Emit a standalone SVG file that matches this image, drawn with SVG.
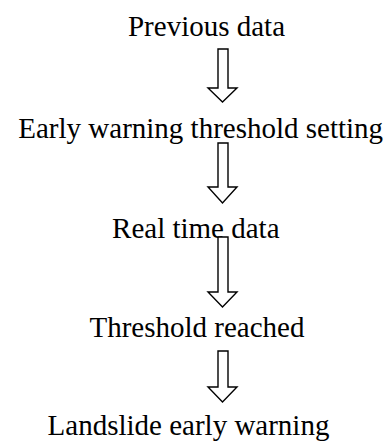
<svg xmlns="http://www.w3.org/2000/svg" width="388" height="446" viewBox="0 0 388 446">
  <style>
    .label { font-family: "Liberation Serif", "Times New Roman", serif; font-size: 29px; fill: #000; text-anchor: middle; }
    .arrow { fill: #fff; stroke: #000; stroke-width: 1.4; stroke-linejoin: miter; }
  </style>
  <rect width="388" height="446" fill="#fff"/>

  <g id="node-previous-data">
    <text class="label" x="206.5" y="35.7">Previous data</text>
  </g>
  <g id="node-threshold-setting">
    <text class="label" x="200.7" y="137.7">Early warning threshold setting</text>
  </g>
  <g id="node-real-time-data">
    <text class="label" x="195.8" y="238">Real time data</text>
  </g>
  <g id="node-threshold-reached">
    <text class="label" x="197" y="336.7">Threshold reached</text>
  </g>
  <g id="node-landslide-warning">
    <text class="label" x="188.5" y="435">Landslide early warning</text>
  </g>

  <!-- hollow block arrows between steps -->
  <g id="connectors">
    <polygon class="arrow" points="218,49 228,49 228,88 237,88 222.5,102 208,88 218,88"/>
    <polygon class="arrow" points="218,143 228,143 228,187 237,187 222.5,203 208,187 218,187"/>
    <polygon class="arrow" points="218,237 228,237 228,292 237,292 222.5,307 208,292 218,292"/>
    <polygon class="arrow" points="218,351 228,351 228,387 237,387 222.5,402 208,387 218,387"/>
  </g>
</svg>
